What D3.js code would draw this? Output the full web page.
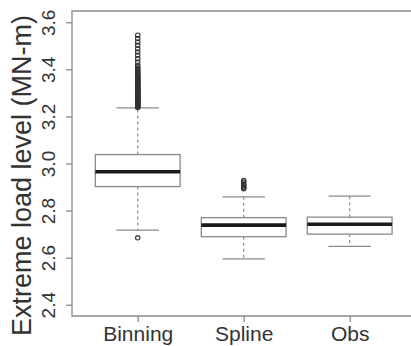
<!DOCTYPE html>
<html>
<head>
<meta charset="utf-8">
<script src="https://cdn.jsdelivr.net/npm/d3@7"></script>
<style>
  html, body { margin: 0; padding: 0; background: #fff; overflow: hidden; }
  svg { display: block; overflow: hidden; }
  text { font-family: "Liberation Sans", Arial, sans-serif; fill: #333; }
</style>
</head>
<body>
<div id="chart"></div>
<script>
// Box statistics per method
const categories = ["Binning", "Spline", "Obs"];
const q1 = [2.902, 2.689, 2.700];
const medians = [2.965, 2.738, 2.742];
const q3 = [3.038, 2.770, 2.772];
const whiskerLow = [2.717, 2.595, 2.648];
const whiskerHigh = [3.236, 2.858, 2.861];

// Outlying values beyond the whiskers
const outliersBinning = [
  2.684,
  3.238, 3.240, 3.242, 3.245, 3.247, 3.249, 3.251, 3.254, 3.256, 3.258,
  3.261, 3.263, 3.265, 3.268, 3.270, 3.272, 3.275, 3.277, 3.279, 3.282,
  3.284, 3.286, 3.289, 3.291, 3.294, 3.296, 3.298, 3.301, 3.303, 3.306,
  3.308, 3.311, 3.313, 3.316, 3.318, 3.321, 3.323, 3.326, 3.329, 3.331,
  3.334, 3.337, 3.340, 3.342, 3.345, 3.348, 3.351, 3.354, 3.357, 3.360,
  3.363, 3.366, 3.370, 3.373, 3.377, 3.381, 3.385, 3.389, 3.394, 3.399,
  3.405, 3.411, 3.418, 3.431, 3.445, 3.460, 3.474, 3.488, 3.502, 3.516,
  3.531, 3.545
];
const outliersSpline = [2.893, 2.897, 2.901, 2.906, 2.913, 2.921, 2.928];
const outliersObs = [];
const outliers = [outliersBinning, outliersSpline, outliersObs];

const yTicks = [2.4, 2.6, 2.8, 3.0, 3.2, 3.4, 3.6];
const yTitle = "Extreme load level (MN-m)";

const W = 411, H = 346;
const plot = { left: 72, top: 11, bottom: 316, right: 415.4 };

const svg = d3.select("#chart").append("svg")
  .attr("width", W).attr("height", H);

const x = d3.scaleLinear().domain([0.38, 3.62]).range([plot.left, plot.right]);
const y = d3.scaleLinear().domain([2.352, 3.648]).range([plot.bottom, plot.top]);

const grey = "#8a8a8a";
const boxW = x(0.8) - x(0);

// Frame: top, left and bottom sides; the right side lies past the canvas edge
svg.append("path")
  .attr("d", `M${W},${plot.top}H${plot.left}V${plot.bottom}H${W}`)
  .attr("fill", "none").attr("stroke", grey).attr("stroke-width", 1.3);

// Y axis
const yAxis = svg.append("g")
  .attr("transform", `translate(${plot.left},0)`)
  .call(d3.axisLeft(y).tickValues(yTicks).tickFormat(d3.format(".1f")).tickSize(6).tickPadding(3));
yAxis.select(".domain").remove();
yAxis.selectAll(".tick line").attr("stroke", grey).attr("stroke-width", 1.3);
yAxis.selectAll(".tick text")
  .attr("x", null).attr("dy", null)
  .attr("transform", "translate(-17,0) rotate(-90)")
  .attr("text-anchor", "middle")
  .style("font-size", "19px").style("fill", "#333")
  .style("font-family", "'Liberation Sans', Arial, sans-serif");

// X axis
const xAxis = svg.append("g")
  .attr("transform", `translate(0,${plot.bottom})`)
  .call(d3.axisBottom(x).tickValues([1, 2, 3]).tickFormat((d) => categories[d - 1]).tickSize(6).tickPadding(6));
xAxis.select(".domain").remove();
xAxis.selectAll(".tick line").attr("stroke", grey).attr("stroke-width", 1.3);
xAxis.selectAll(".tick text")
  .attr("y", 25).attr("dy", null)
  .style("font-size", "21px").style("fill", "#333")
  .style("font-family", "'Liberation Sans', Arial, sans-serif");

// Y title
svg.append("text")
  .attr("transform", `translate(31,${(y(2.4) + y(3.6)) / 2 + 12}) rotate(-90)`)
  .attr("text-anchor", "middle")
  .style("font-size", "27px")
  .text(yTitle);

// Boxes
const groups = svg.append("g").selectAll("g")
  .data(categories.map((c, i) => ({
    c, i, q1: q1[i], med: medians[i], q3: q3[i],
    lo: whiskerLow[i], hi: whiskerHigh[i], out: outliers[i]
  })))
  .join("g");

// dashed whiskers
groups.append("line")
  .attr("x1", (d) => x(d.i + 1)).attr("x2", (d) => x(d.i + 1))
  .attr("y1", (d) => y(d.q3)).attr("y2", (d) => y(d.hi))
  .attr("stroke", grey).attr("stroke-width", 1.2).attr("stroke-dasharray", "3,3");
groups.append("line")
  .attr("x1", (d) => x(d.i + 1)).attr("x2", (d) => x(d.i + 1))
  .attr("y1", (d) => y(d.q1)).attr("y2", (d) => y(d.lo))
  .attr("stroke", grey).attr("stroke-width", 1.2).attr("stroke-dasharray", "3,3");

// caps
["hi", "lo"].forEach((k) => {
  groups.append("line")
    .attr("x1", (d) => x(d.i + 1) - boxW / 4).attr("x2", (d) => x(d.i + 1) + boxW / 4)
    .attr("y1", (d) => y(d[k])).attr("y2", (d) => y(d[k]))
    .attr("stroke", grey).attr("stroke-width", 1.3);
});

// box
groups.append("rect")
  .attr("x", (d) => x(d.i + 1) - boxW / 2)
  .attr("width", boxW)
  .attr("y", (d) => y(d.q3))
  .attr("height", (d) => y(d.q1) - y(d.q3))
  .attr("fill", "#fff").attr("stroke", grey).attr("stroke-width", 1.3);

// median
groups.append("line")
  .attr("x1", (d) => x(d.i + 1) - boxW / 2).attr("x2", (d) => x(d.i + 1) + boxW / 2)
  .attr("y1", (d) => y(d.med)).attr("y2", (d) => y(d.med))
  .attr("stroke", "#1a1a1a").attr("stroke-width", 3.6);

// outlier points
groups.selectAll("circle")
  .data((d) => d.out.map((v) => ({ v, i: d.i })))
  .join("circle")
  .attr("cx", (d) => x(d.i + 1))
  .attr("cy", (d) => y(d.v))
  .attr("r", 2.2)
  .attr("fill", "none").attr("stroke", "#333").attr("stroke-width", 1.1);
</script>
</body>
</html>
